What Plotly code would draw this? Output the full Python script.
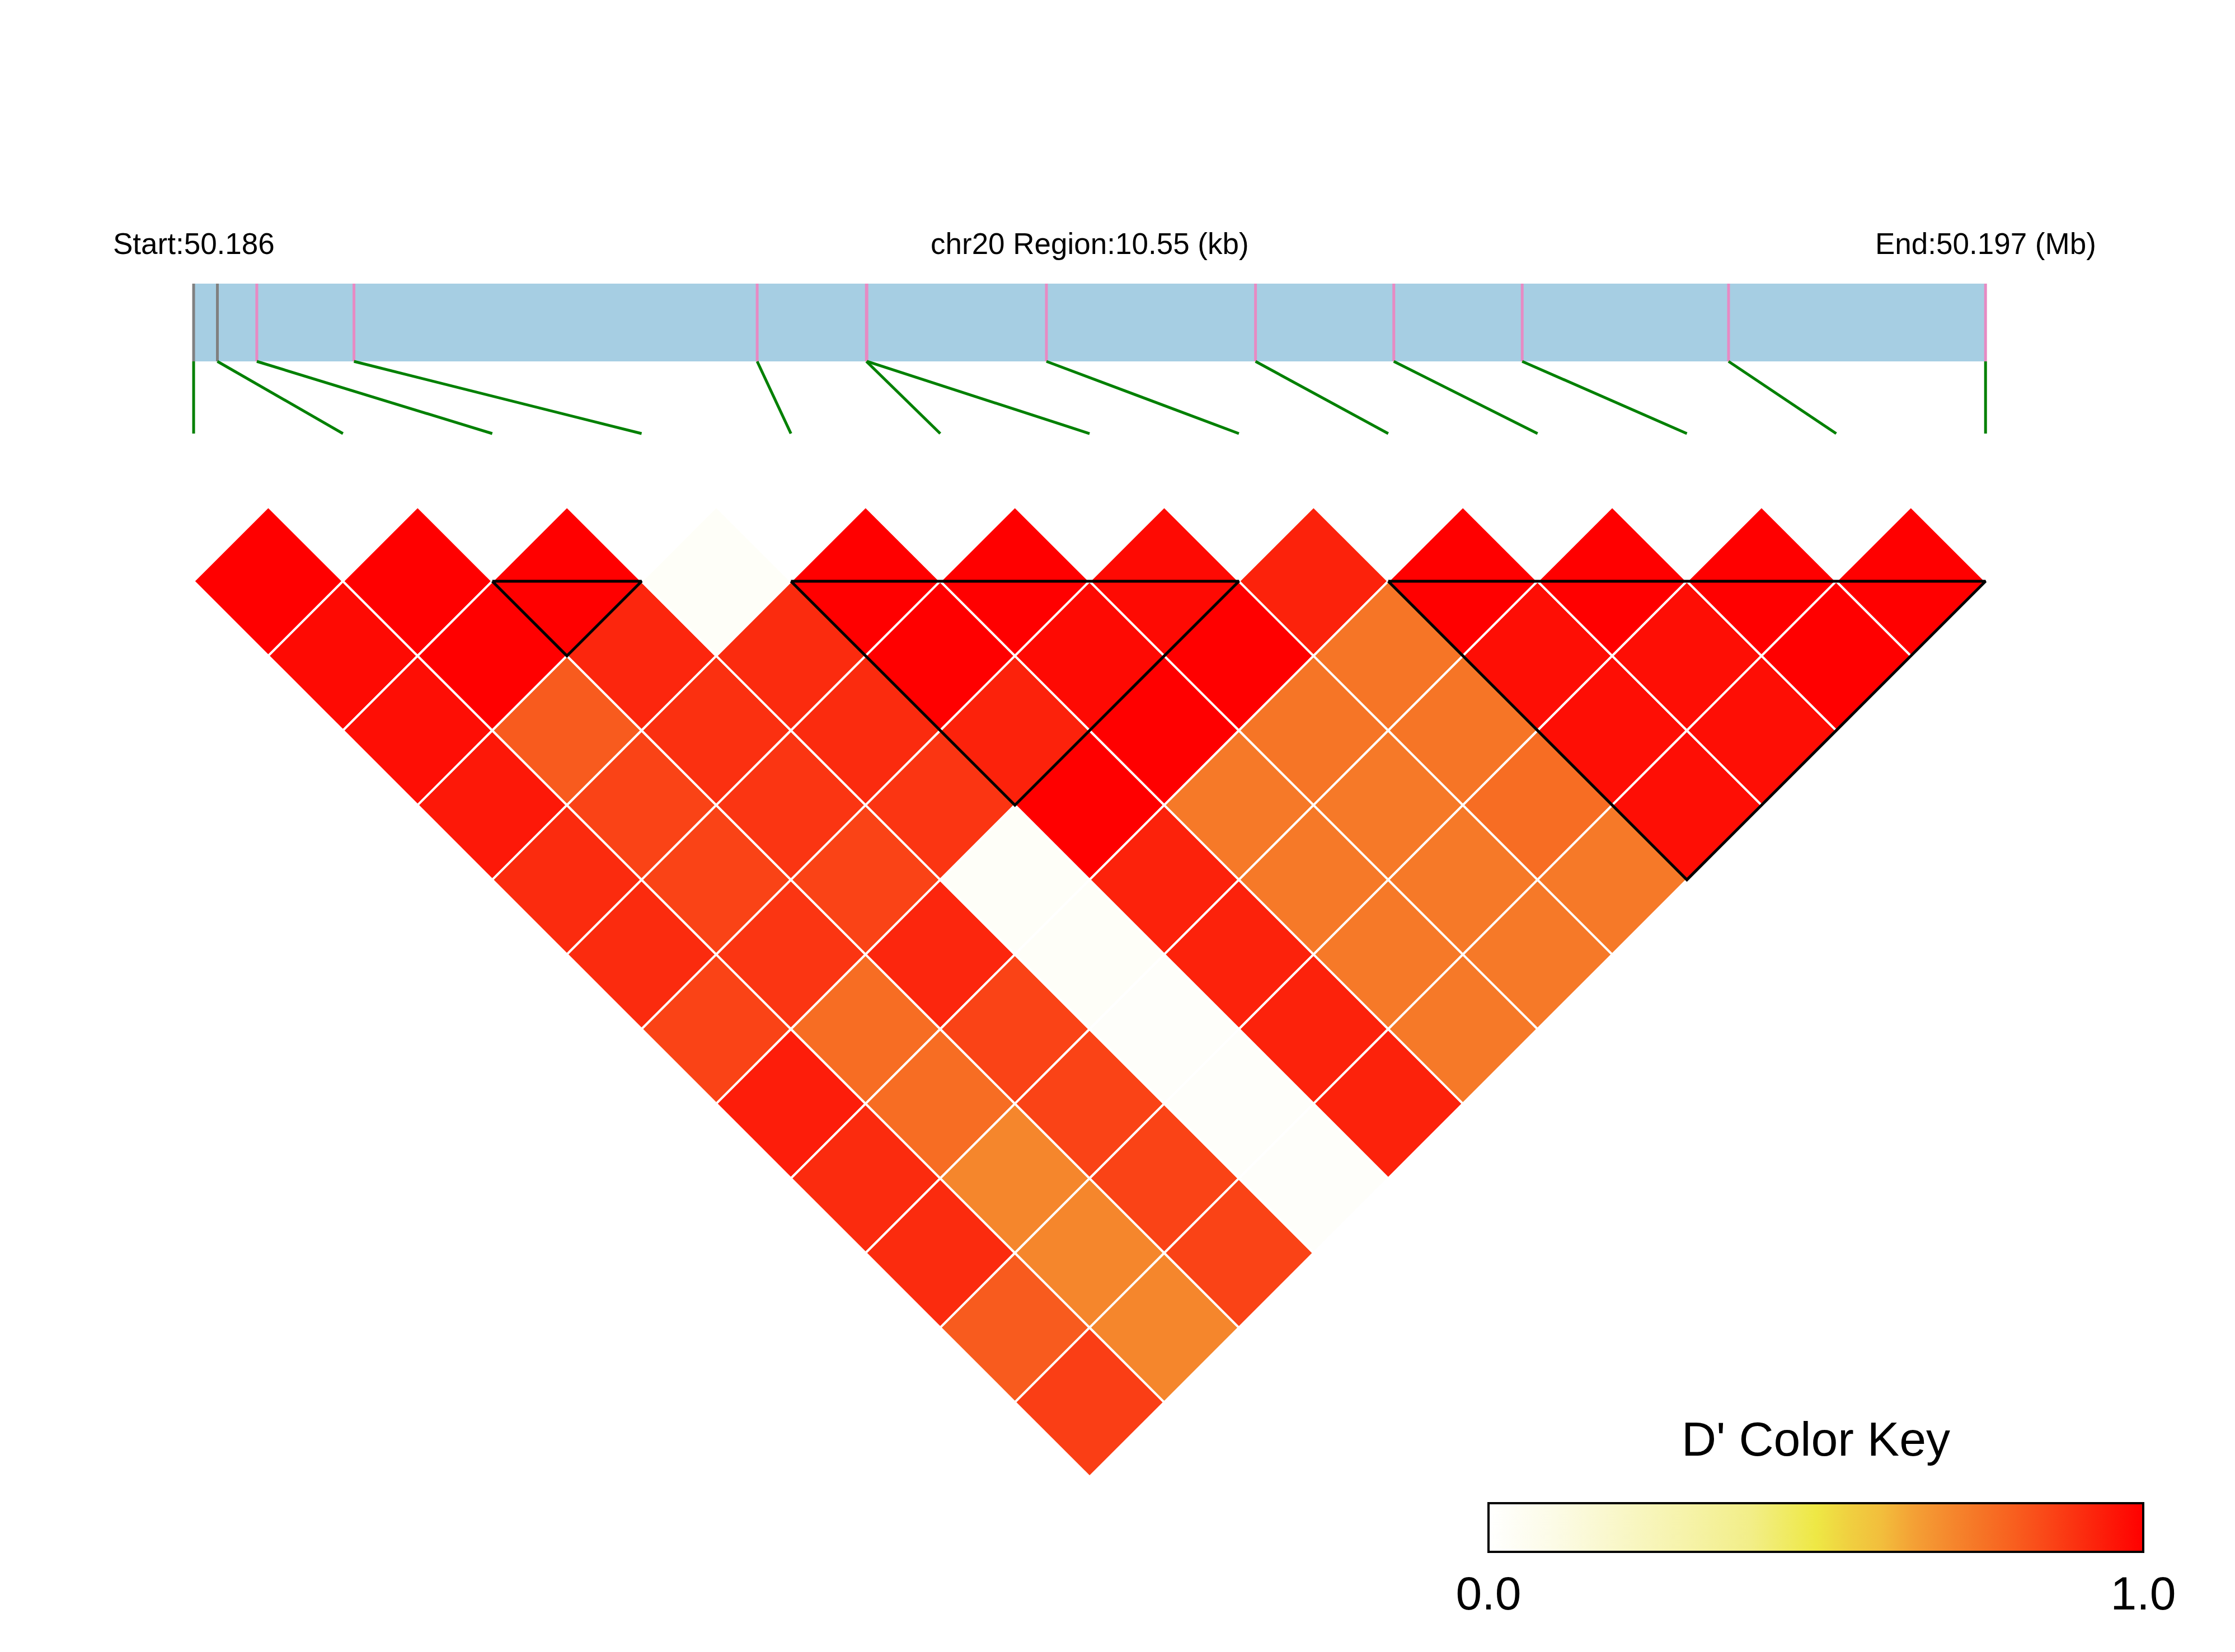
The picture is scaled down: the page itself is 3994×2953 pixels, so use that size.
import plotly.graph_objects as go
from plotly.colors import sample_colorscale

# ---------------- data ----------------
chrom = "chr20"
snp_pos = [50186180, 50186320, 50186552, 50187124, 50189498, 50190141, 50190144,
           50191201, 50192432, 50193246, 50194002, 50195217, 50196730]

# D' values, row i holds pairs (i, i+1), (i, i+2), ...
dprime_rows = [
    [1.00, 0.98, 0.97, 0.95, 0.91, 0.91, 0.86, 0.94, 0.91, 0.91, 0.81, 0.87],
    [1.00, 1.00, 0.81, 0.86, 0.86, 0.89, 0.77, 0.77, 0.71, 0.71, 0.71],
    [1.00, 0.92, 0.90, 0.89, 0.86, 0.92, 0.86, 0.86, 0.86, 0.86],
    [0.03, 0.91, 0.91, 0.89, 0.03, 0.03, 0.02, 0.02, 0.02],
    [1.00, 1.00, 0.93, 1.00, 0.93, 0.93, 0.93, 0.93],
    [1.00, 0.98, 1.00, 0.74, 0.74, 0.74, 0.74],
    [0.98, 1.00, 0.75, 0.74, 0.74, 0.74],
    [0.93, 0.75, 0.75, 0.77, 0.74],
    [1.00, 0.97, 0.97, 0.97],
    [1.00, 0.97, 0.97],
    [1.00, 1.00],
    [1.00],
]

# LD blocks (first SNP index, last SNP index)
blocks = [(2, 3), (4, 7), (8, 12)]

dprime_colorscale = [
    [0.0, "#FFFFFF"], [0.1, "#FCFBE6"], [0.2, "#F9F7C8"], [0.3, "#F6F3AA"],
    [0.4, "#F2EE88"], [0.5, "#EEE845"], [0.55, "#F0D040"], [0.6, "#F2BE3C"],
    [0.65, "#F4A035"], [0.7, "#F58A2E"], [0.75, "#F67526"], [0.8, "#F8601F"],
    [0.85, "#FA4818"], [0.9, "#FB3010"], [0.95, "#FD1808"], [1.0, "#FF0000"],
]

# ---------------- layout constants ----------------
W, H = 3994, 2953
UNIT = 266.85          # pixels per SNP slot
X0_PX, Y0_PX = 346.0, 905.5
BAR_BOTTOM, BAR_TOP = 0.9725, 1.493
LINK_BOTTOM = 0.489
FONT = "Arial, Liberation Sans, sans-serif"

n = len(snp_pos)
start, end = snp_pos[0], snp_pos[-1]

fig = go.Figure()

# ---------------- LD heatmap (rotated cells) ----------------
cxs, cys, vals = [], [], []
for i, row in enumerate(dprime_rows):
    for k, v in enumerate(row):
        j = i + 1 + k
        cx, cy = (i + j) / 2.0, -(j - i) / 2.0
        cxs.append(cx); cys.append(cy); vals.append(v)
        col = sample_colorscale(dprime_colorscale, [v])[0]
        fig.add_trace(go.Scatter(
            x=[cx, cx + 0.5, cx, cx - 0.5, cx],
            y=[cy + 0.5, cy, cy - 0.5, cy, cy + 0.5],
            mode="lines", fill="toself", fillcolor=col,
            line=dict(color="white", width=4),
            hoverinfo="skip", showlegend=False))

# block outlines
for a, b in blocks:
    fig.add_trace(go.Scatter(
        x=[a, b, (a + b) / 2.0, a],
        y=[-0.5, -0.5, -0.5 - (b - a) / 2.0, -0.5],
        mode="lines", line=dict(color="black", width=5),
        hoverinfo="skip", showlegend=False))

# ---------------- chromosome region bar ----------------
fig.add_trace(go.Scatter(
    x=[0, n - 1, n - 1, 0, 0],
    y=[BAR_BOTTOM, BAR_BOTTOM, BAR_TOP, BAR_TOP, BAR_BOTTOM],
    mode="lines", fill="toself", fillcolor="#A6CEE3",
    line=dict(width=0, color="#A6CEE3"), hoverinfo="skip", showlegend=False))

snp_x = [(p - start) / (end - start) * (n - 1) for p in snp_pos]
in_block = [any(a <= s <= b for a, b in blocks) for s in range(n)]

for flag, color in [(False, "#808080"), (True, "#E78AC3")]:
    xs, ys = [], []
    for s in range(n):
        if in_block[s] == flag:
            xs += [snp_x[s], snp_x[s], None]
            ys += [BAR_BOTTOM, BAR_TOP, None]
    fig.add_trace(go.Scatter(x=xs, y=ys, mode="lines",
                             line=dict(color=color, width=5),
                             hoverinfo="skip", showlegend=False))

gx, gy = [], []
for s in range(n):
    gx += [snp_x[s], s, None]
    gy += [BAR_BOTTOM, LINK_BOTTOM, None]
fig.add_trace(go.Scatter(x=gx, y=gy, mode="lines",
                         line=dict(color="#008000", width=5),
                         hoverinfo="skip", showlegend=False))

# ---------------- colour key (colorbar) ----------------
fig.add_trace(go.Scatter(
    x=cxs, y=cys, mode="markers",
    marker=dict(size=1, opacity=0, color=vals, colorscale=dprime_colorscale,
                cmin=0, cmax=1, showscale=True,
                colorbar=dict(orientation="h", x=3245 / W, xanchor="center",
                              y=1 - 2687 / H, yanchor="top",
                              len=1170, lenmode="pixels",
                              thickness=87, thicknessmode="pixels",
                              outlinewidth=4, outlinecolor="black",
                              tickvals=[0, 1], ticktext=["0.0", "1.0"],
                              ticks="", tickfont=dict(size=84, color="black", family=FONT),
                              xpad=0, ypad=0)),
    hoverinfo="skip", showlegend=False))

# ---------------- texts ----------------
lab_y = BAR_TOP + 0.27
tfont = dict(size=53, color="black", family=FONT)
fig.add_annotation(x=0, y=lab_y, text=f"Start:{start / 1e6:.3f}", showarrow=False,
                   font=tfont, xanchor="center", yanchor="middle")
fig.add_annotation(x=(n - 1) / 2.0, y=lab_y,
                   text=f"{chrom} Region:{(end - start) / 1000:.2f} (kb)", showarrow=False,
                   font=tfont, xanchor="center", yanchor="middle")
fig.add_annotation(x=n - 1, y=lab_y, text=f"End:{end / 1e6:.3f} (Mb)", showarrow=False,
                   font=tfont, xanchor="center", yanchor="middle")
fig.add_annotation(xref="paper", yref="paper", x=3245 / W, y=1 - 2572 / H,
                   text="D' Color Key", showarrow=False,
                   font=dict(size=86, color="black", family=FONT),
                   xanchor="center", yanchor="middle")

fig.update_layout(
    width=W, height=H,
    margin=dict(l=0, r=0, t=0, b=0, pad=0),
    paper_bgcolor="white", plot_bgcolor="white",
    xaxis=dict(range=[-X0_PX / UNIT, (W - X0_PX) / UNIT], visible=False, fixedrange=True),
    yaxis=dict(range=[-(H - Y0_PX) / UNIT, Y0_PX / UNIT], visible=False, fixedrange=True),
    showlegend=False,
)

fig.write_html("out.html", config={"displayModeBar": False},
               post_script="document.body.style.margin='0';document.body.style.overflow='hidden';")
